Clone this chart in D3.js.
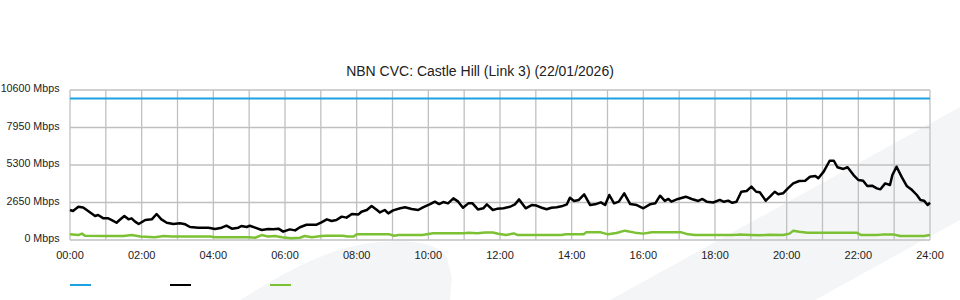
<!DOCTYPE html>
<html>
<head>
<meta charset="utf-8">
<script src="https://cdn.jsdelivr.net/npm/d3@7"></script>
<style>
    body { margin: 0; background: #fff; }
    text { font-family: "Liberation Sans", Arial, sans-serif; fill: #222; }
</style>
</head>
<body>
<svg id="chart" width="960" height="300"></svg>
<script>
var title = "NBN CVC: Castle Hill (Link 3) (22/01/2026)";
var yTicks = [0, 2650, 5300, 7950, 10600];
var xTickLabels = ["00:00", "02:00", "04:00", "06:00", "08:00", "10:00", "12:00",
    "14:00", "16:00", "18:00", "20:00", "22:00", "24:00"];

var capacityTimes = ["00:00", "24:00"];
var capacityValues = [10000, 10000];

var downTimes = ["00:00", "00:05", "00:14", "00:22", "00:28", "00:42", "00:47", "00:56", "01:04", "01:10",
    "01:18", "01:23", "01:31", "01:38", "01:43", "01:49", "01:55", "02:06", "02:17", "02:25",
    "02:33", "02:42", "02:53", "03:04", "03:13", "03:21", "03:35", "03:52", "04:03", "04:14",
    "04:22", "04:31", "04:42", "04:47", "04:56", "05:01", "05:10", "05:21", "05:32", "05:40",
    "05:49", "05:57", "06:08", "06:17", "06:25", "06:36", "06:53", "07:01", "07:10", "07:18",
    "07:26", "07:35", "07:43", "07:52", "08:03", "08:08", "08:17", "08:25", "08:34", "08:39",
    "08:47", "08:53", "09:01", "09:13", "09:21", "09:32", "09:43", "09:51", "10:03", "10:11",
    "10:18", "10:25", "10:33", "10:42", "10:50", "10:58", "11:07", "11:14", "11:23", "11:32",
    "11:38", "11:48", "11:55", "12:06", "12:17", "12:25", "12:32", "12:43", "12:53", "13:01",
    "13:10", "13:18", "13:26", "13:35", "13:43", "13:52", "13:57", "14:04", "14:12", "14:21",
    "14:31", "14:39", "14:49", "14:56", "15:03", "15:11", "15:19", "15:28", "15:38", "15:49",
    "16:00", "16:11", "16:20", "16:28", "16:36", "16:42", "16:47", "16:58", "17:11", "17:21",
    "17:32", "17:39", "17:46", "17:57", "18:08", "18:15", "18:22", "18:29", "18:36", "18:44",
    "18:53", "19:01", "19:09", "19:15", "19:25", "19:32", "19:40", "19:46", "19:54", "20:02",
    "20:11", "20:21", "20:31", "20:39", "20:48", "20:53", "21:02", "21:12", "21:19", "21:25",
    "21:35", "21:42", "21:52", "22:00", "22:08", "22:15", "22:23", "22:31", "22:37", "22:45",
    "22:53", "22:57", "23:04", "23:13", "23:21", "23:30", "23:38", "23:44", "23:50", "23:56",
    "24:00"];
var downValues = [2120, 2050, 2350, 2300, 2120, 1700, 1770, 1530, 1530, 1410,
    1220, 1410, 1700, 1460, 1530, 1300, 1130, 1410, 1460, 1840,
    1460, 1220, 1130, 1180, 1110, 920, 870, 870, 780, 870,
    1010, 800, 870, 990, 920, 1010, 870, 710, 780, 760,
    800, 590, 750, 680, 900, 1080, 1080, 1250, 1460, 1340,
    1410, 1650, 1580, 1840, 1810, 2000, 2120, 2400, 2120, 1950,
    2120, 1880, 2090, 2240, 2310, 2190, 2120, 2310, 2540, 2710,
    2540, 2680, 2590, 2940, 2710, 2280, 2590, 2590, 2160, 2240,
    2520, 2120, 2200, 2240, 2350, 2520, 2870, 2240, 2470, 2430,
    2280, 2170, 2280, 2310, 2380, 2520, 2990, 2760, 2830, 3230,
    2470, 2520, 2660, 2470, 3180, 2590, 2710, 3300, 2540, 2470,
    2240, 2520, 2590, 3130, 2760, 2900, 2710, 2900, 3060, 2900,
    2760, 2900, 2710, 2650, 2830, 2700, 2780, 2630, 2700, 3410,
    3460, 3770, 3410, 3380, 2780, 3060, 3410, 3230, 3300, 3650,
    4000, 4170, 4190, 4470, 4520, 4360, 4830, 5600, 5600, 5140,
    5020, 5140, 4590, 4240, 4190, 3820, 3840, 3650, 3580, 4000,
    3890, 4590, 5180, 4430, 3820, 3530, 3180, 2830, 2780, 2470,
    2640];

var upTimes = ["00:00", "00:14", "00:20", "00:25", "01:00", "01:30", "01:43", "01:58", "02:22", "02:37",
    "02:50", "03:30", "03:55", "04:03", "05:00", "05:10", "05:21", "05:32", "05:43", "05:55",
    "06:10", "06:25", "06:33", "06:45", "07:01", "07:10", "07:37", "07:45", "07:55", "08:00",
    "08:55", "09:03", "09:10", "09:50", "10:08", "11:00", "11:07", "11:22", "11:35", "11:48",
    "11:57", "12:10", "12:23", "12:30", "13:43", "13:50", "14:20", "14:24", "14:49", "15:01",
    "15:15", "15:29", "15:46", "16:00", "16:14", "17:04", "17:15", "17:27", "18:00", "18:30",
    "18:40", "19:00", "19:15", "19:30", "19:54", "20:05", "20:11", "20:21", "20:35", "20:44",
    "21:57", "22:05", "22:30", "22:40", "23:00", "23:10", "23:50", "24:00"];
var upValues = [400, 350, 450, 300, 280, 280, 350, 240, 190, 280,
    240, 240, 240, 190, 190, 160, 350, 240, 280, 190,
    120, 160, 280, 200, 280, 300, 300, 240, 240, 400,
    400, 300, 350, 350, 470, 470, 510, 470, 530, 530,
    440, 350, 470, 350, 350, 400, 400, 540, 540, 400,
    500, 660, 520, 450, 540, 540, 400, 350, 350, 350,
    380, 350, 330, 370, 350, 450, 660, 590, 520, 520,
    520, 350, 350, 380, 380, 280, 280, 350];

var seriesColors = ["#1da1e0", "#000000", "#7cc133"];
var seriesWidths = [2, 2.5, 2.5];

function toHours(t) {
    var p = t.split(":");
    return +p[0] + (+p[1]) / 60;
}

function drawChart() {
    var svg = d3.select("#chart");

    // faint background shapes
    svg.append("path")
        .attr("d", "M240,300 C285,272 330,246 380,242 C415,239 440,244 447,258 L452,278 L450,300 Z")
        .attr("fill", "#f4f5f7");
    svg.append("path")
        .attr("d", "M610,300 L960,107 L960,220 L815,300 Z")
        .attr("fill", "#f4f5f7");

    var x = d3.scaleLinear().domain([0, 24]).range([70, 930]);
    var y = d3.scaleLinear().domain([0, 10600]).range([240, 90]);

    svg.append("text")
        .attr("x", 480)
        .attr("y", 76)
        .attr("text-anchor", "middle")
        .style("font-size", "14px")
        .text(title);

    // grid
    var hours = d3.range(0, 25);
    svg.append("g").selectAll("line")
        .data(hours)
        .enter().append("line")
        .attr("x1", function(d) { return x(d); })
        .attr("x2", function(d) { return x(d); })
        .attr("y1", y(10600))
        .attr("y2", y(0))
        .attr("stroke", "#c0c0c0")
        .attr("stroke-width", 1.3);

    svg.append("g").selectAll("line")
        .data(yTicks)
        .enter().append("line")
        .attr("x1", x(0))
        .attr("x2", x(24))
        .attr("y1", function(d) { return y(d); })
        .attr("y2", function(d) { return y(d); })
        .attr("stroke", "#c0c0c0")
        .attr("stroke-width", 1.3);

    svg.append("g").selectAll("text")
        .data(yTicks)
        .enter().append("text")
        .attr("x", 59.5)
        .attr("y", function(d) { return y(d) + 2; })
        .attr("text-anchor", "end")
        .style("font-size", "10.7px")
        .text(function(d) { return d + " Mbps"; });

    svg.append("g").selectAll("text")
        .data(xTickLabels)
        .enter().append("text")
        .attr("x", function(d) { return x(toHours(d)); })
        .attr("y", 259)
        .attr("text-anchor", "middle")
        .style("font-size", "11px")
        .text(function(d) { return d; });

    var line = d3.line()
        .x(function(d) { return x(d[0]); })
        .y(function(d) { return y(d[1]); });

    var series = [
        [capacityTimes, capacityValues],
        [downTimes, downValues],
        [upTimes, upValues]
    ];

    series.forEach(function(s, i) {
        var pts = s[0].map(function(t, j) { return [toHours(t), s[1][j]]; });
        svg.append("path")
            .datum(pts)
            .attr("d", line)
            .attr("fill", "none")
            .attr("stroke", seriesColors[i])
            .attr("stroke-width", seriesWidths[i])
            .attr("stroke-linejoin", "round");
    });

    // legend swatches
    seriesColors.forEach(function(c, i) {
        svg.append("line")
            .attr("x1", 70 + i * 100)
            .attr("x2", 91 + i * 100)
            .attr("y1", 285)
            .attr("y2", 285)
            .attr("stroke", c)
            .attr("stroke-width", 2);
    });
}

drawChart();
</script>
</body>
</html>
